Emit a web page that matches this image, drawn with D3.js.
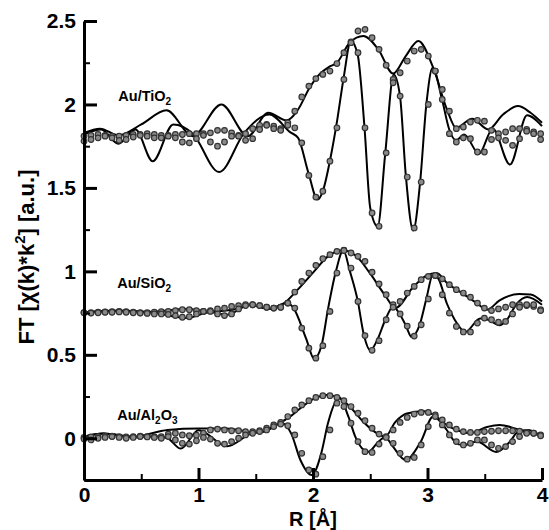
<!DOCTYPE html>
<html>
<head>
  <meta charset="utf-8" />
  <title>FT</title>
  <script src="https://d3js.org/d3.v7.min.js"></script>
  <style>
    body { margin: 0; background: #fff; }
    text { font-family: "Liberation Sans", Arial, sans-serif; font-weight: bold; fill: #000; }
  </style>
</head>
<body>
<svg width="549" height="530"></svg>
<script>
// R grid of the measured points (FFT grid, ~0.0614 A)
var rGrid = [0, 0.061, 0.123, 0.184, 0.245, 0.307, 0.368, 0.430, 0.491, 0.552,
  0.614, 0.675, 0.736, 0.798, 0.859, 0.920, 0.982, 1.043, 1.104, 1.166,
  1.227, 1.289, 1.350, 1.411, 1.473, 1.534, 1.595, 1.657, 1.718, 1.780,
  1.841, 1.902, 1.964, 2.025, 2.086, 2.148, 2.209, 2.270, 2.332, 2.393,
  2.454, 2.516, 2.577, 2.639, 2.700, 2.761, 2.823, 2.884, 2.945, 3.007,
  3.068, 3.129, 3.191, 3.252, 3.313, 3.375, 3.436, 3.497, 3.559, 3.620,
  3.682, 3.743, 3.804, 3.866, 3.927, 3.988];

// Au/TiO2 - measured magnitude and imaginary part
var tiMagData = [1.81,1.815,1.82,1.815,1.81,1.81,1.815,1.82,1.82,1.825,
  1.82,1.815,1.815,1.82,1.82,1.825,1.825,1.825,1.83,1.845,
  1.845,1.83,1.815,1.825,1.855,1.875,1.88,1.87,1.855,1.89,
  1.96,2.045,2.11,2.155,2.18,2.20,2.245,2.31,2.375,2.44,
  2.45,2.40,2.33,2.235,2.15,2.19,2.26,2.32,2.33,2.29,
  2.20,2.09,1.96,1.855,1.865,1.895,1.905,1.90,1.845,1.825,
  1.835,1.855,1.855,1.85,1.835,1.825];
var tiImData = [1.78,1.79,1.80,1.81,1.80,1.785,1.79,1.805,1.815,1.81,
  1.80,1.80,1.81,1.80,1.775,1.77,1.795,1.815,1.775,1.75,
  1.775,1.81,1.81,1.785,1.795,1.85,1.875,1.855,1.845,1.875,
  1.86,1.77,1.575,1.445,1.48,1.66,1.86,2.15,2.37,2.31,
  1.86,1.35,1.27,1.71,2.13,2.05,1.565,1.26,1.535,2.00,
  2.20,2.03,1.825,1.775,1.80,1.795,1.715,1.715,1.79,1.80,
  1.785,1.755,1.795,1.84,1.825,1.79];
// Au/TiO2 - fit (knots)
var tiMagFitR = [0, 0.14, 0.30, 0.50, 0.72, 0.95, 1.20, 1.43, 1.61, 1.77, 1.87, 1.97, 2.07, 2.14, 2.21,
  2.32, 2.44, 2.57, 2.70, 2.81, 2.92, 3.05, 3.17, 3.25, 3.39, 3.53, 3.66, 3.79, 3.90, 4.0];
var tiMagFit = [1.83, 1.855, 1.815, 1.88, 1.965, 1.81, 2.00, 1.81, 1.95, 1.905, 1.97, 2.10, 2.19, 2.225, 2.25,
  2.37, 2.41, 2.33, 2.185, 2.29, 2.38, 2.22, 1.97, 1.86, 1.915, 1.85, 1.94, 1.99, 1.95, 1.89];
var tiImFitR = [0, 0.15, 0.30, 0.45, 0.60, 0.78, 0.95, 1.18, 1.40, 1.62, 1.80, 1.87, 1.96, 2.04, 2.09,
  2.15, 2.21, 2.27, 2.33, 2.39, 2.45, 2.50, 2.565, 2.63, 2.705, 2.76, 2.81, 2.875, 2.935, 2.99,
  3.045, 3.13, 3.19, 3.25, 3.32, 3.45, 3.57, 3.72, 3.87, 4.0];
var tiImFit = [1.82, 1.85, 1.765, 1.85, 1.66, 1.88, 1.825, 1.595, 1.83, 1.94, 1.834, 1.80, 1.59, 1.43, 1.49,
  1.67, 1.90, 2.17, 2.38, 2.30, 1.86, 1.38, 1.27, 1.70, 2.18, 2.05, 1.58, 1.245, 1.53, 2.00,
  2.22, 2.02, 1.85, 1.785, 1.82, 1.705, 1.855, 1.64, 1.935, 1.87];

// Au/SiO2
var siMagData = [0.752,0.752,0.755,0.757,0.758,0.76,0.758,0.755,0.752,0.752,
  0.755,0.758,0.76,0.765,0.77,0.77,0.765,0.76,0.765,0.775,
  0.78,0.79,0.795,0.80,0.80,0.795,0.785,0.78,0.785,0.81,
  0.876,0.94,0.99,1.036,1.076,1.10,1.12,1.127,1.11,1.09,
  1.06,0.995,0.925,0.86,0.80,0.82,0.87,0.91,0.95,0.97,
  0.975,0.955,0.92,0.89,0.87,0.845,0.81,0.78,0.765,0.775,
  0.785,0.80,0.80,0.795,0.79,0.77];
var siImData = [0.752,0.75,0.752,0.755,0.755,0.757,0.755,0.752,0.75,0.748,
  0.745,0.745,0.742,0.735,0.725,0.728,0.745,0.76,0.76,0.745,
  0.735,0.745,0.775,0.795,0.80,0.795,0.785,0.78,0.785,0.81,
  0.78,0.66,0.54,0.48,0.555,0.76,0.99,1.125,1.02,0.82,
  0.615,0.527,0.585,0.71,0.785,0.745,0.672,0.612,0.68,0.835,
  0.975,0.86,0.75,0.67,0.637,0.637,0.69,0.72,0.71,0.695,
  0.70,0.745,0.785,0.80,0.80,0.765];
var siMagFitR = [0, 0.3, 0.6, 0.9, 1.1, 1.3, 1.45, 1.62, 1.75, 1.86, 2.01, 2.13, 2.265, 2.38,
  2.50, 2.63, 2.72, 2.875, 2.99, 3.08, 3.17, 3.30, 3.43, 3.52, 3.63, 3.80, 3.90, 4.0];
var siMagFit = [0.755, 0.765, 0.758, 0.775, 0.76, 0.77, 0.80, 0.775, 0.81, 0.886, 1.0, 1.09, 1.127, 1.09,
  0.986, 0.856, 0.78, 0.906, 0.975, 0.99, 0.93, 0.87, 0.81, 0.77, 0.826, 0.865, 0.862, 0.82];
var siImFitR = [0, 0.3, 0.6, 0.9, 1.1, 1.25, 1.45, 1.62, 1.77, 1.83, 1.94, 2.01, 2.075, 2.13, 2.20,
  2.265, 2.32, 2.39, 2.445, 2.50, 2.56, 2.63, 2.70, 2.755, 2.81, 2.86, 2.935, 2.99, 3.05, 3.10,
  3.17, 3.24, 3.33, 3.46, 3.53, 3.63, 3.69, 3.78, 3.87, 4.0];
var siImFit = [0.755, 0.762, 0.752, 0.72, 0.755, 0.74, 0.80, 0.775, 0.81, 0.78, 0.597, 0.477, 0.557, 0.77, 1.0,
  1.127, 1.006, 0.826, 0.617, 0.527, 0.587, 0.707, 0.79, 0.746, 0.677, 0.607, 0.687, 0.836, 0.986, 0.95,
  0.806, 0.707, 0.637, 0.717, 0.71, 0.677, 0.707, 0.806, 0.846, 0.80];

// Au/Al2O3
var alMagData = [0.005,0.008,0.01,0.012,0.012,0.01,0.008,0.01,0.012,0.01,
  0.008,0.01,0.025,0.03,0.02,0.015,0.018,0.03,0.05,0.055,
  0.05,0.045,0.045,0.04,0.04,0.045,0.06,0.08,0.095,0.13,
  0.17,0.20,0.225,0.245,0.255,0.255,0.245,0.225,0.19,0.15,
  0.105,0.06,0.025,0.01,0.05,0.095,0.125,0.145,0.155,0.155,
  0.14,0.11,0.08,0.055,0.04,0.035,0.035,0.04,0.042,0.045,
  0.045,0.045,0.042,0.035,0.03,0.02];
var alImData = [-0.005,-0.01,0.0,0.005,0.01,0.005,0.0,0.005,0.01,0.008,
  0.005,0.0,0.01,-0.01,-0.03,-0.035,-0.015,0.005,-0.005,-0.03,
  -0.035,-0.02,0.0,0.02,0.03,0.04,0.05,0.07,0.085,0.075,
  0.02,-0.09,-0.19,-0.215,-0.11,0.05,0.21,0.19,0.09,-0.02,
  -0.08,-0.085,-0.035,0.005,-0.03,-0.09,-0.125,-0.115,-0.04,0.07,
  0.13,0.08,0.02,-0.02,-0.04,-0.03,-0.01,-0.01,-0.04,-0.06,
  -0.05,-0.02,0.01,0.03,0.03,0.015];
var alMagFitR = [0, 0.17, 0.43, 0.73, 1.0, 1.22, 1.35, 1.46, 1.57, 1.70, 1.80, 1.89, 2.01, 2.12, 2.22,
  2.31, 2.44, 2.52, 2.63, 2.72, 2.82, 2.97, 3.08, 3.17, 3.26, 3.37, 3.52, 3.63, 3.77, 3.88, 4.0];
var alMagFit = [0.01, 0.028, 0.01, 0.05, 0.058, 0.058, 0.05, 0.035, 0.04, 0.088, 0.13, 0.18, 0.238, 0.26, 0.245,
  0.198, 0.098, 0.048, 0.01, 0.098, 0.148, 0.162, 0.128, 0.078, 0.048, 0.03, 0.068, 0.08, 0.058, 0.035, 0.015];
var alImFitR = [0, 0.17, 0.43, 0.62, 0.73, 0.845, 1.0, 1.25, 1.46, 1.57, 1.73, 1.81, 1.89, 1.99, 2.075,
  2.13, 2.23, 2.31, 2.37, 2.48, 2.57, 2.63, 2.69, 2.81, 2.94, 3.05, 3.17, 3.24, 3.31, 3.43,
  3.60, 3.72, 3.79, 3.88, 4.0];
var alImFit = [0.01, 0.028, 0.005, 0.012, 0.0, -0.062, 0.048, -0.048, 0.028, 0.04, 0.09, 0.028, -0.13, -0.22, -0.082,
  0.088, 0.244, 0.128, 0.008, -0.082, -0.022, 0.008, -0.042, -0.13, -0.022, 0.13, 0.048, -0.022, -0.042, -0.02,
  -0.082, -0.02, 0.038, 0.05, 0.01];

var yMajor = [0, 0.5, 1, 1.5, 2, 2.5];
var yMinor = [-0.25, 0.25, 0.75, 1.25, 1.75, 2.25];
var xMajor = [0, 1, 2, 3, 4];
var xMinor = [0.5, 1.5, 2.5, 3.5];

var samples = [
  {name: "Au/TiO", sub: ["2"], labelR: 0.3, labelY: 2.02,
   magData: tiMagData, imData: tiImData, magFitR: tiMagFitR, magFit: tiMagFit, imFitR: tiImFitR, imFit: tiImFit},
  {name: "Au/SiO", sub: ["2"], labelR: 0.29, labelY: 0.9,
   magData: siMagData, imData: siImData, magFitR: siMagFitR, magFit: siMagFit, imFitR: siImFitR, imFit: siImFit},
  {name: "Au/Al", sub: ["2", "3"], labelR: 0.29, labelY: 0.11,
   magData: alMagData, imData: alImData, magFitR: alMagFitR, magFit: alMagFit, imFitR: alImFitR, imFit: alImFit}
];

var svg = d3.select("svg"),
  margin = {top: 21, right: 7, bottom: 50, left: 84},
  width = +svg.attr("width") - margin.left - margin.right,
  height = +svg.attr("height") - margin.top - margin.bottom,
  g = svg.append("g").attr("transform", "translate(" + margin.left + "," + margin.top + ")");

var x = d3.scaleLinear().domain([0, 4]).range([0, width]);
var y = d3.scaleLinear().domain([-0.25, 2.5]).range([height, 0]);

var line = d3.line()
  .x(function(d) { return x(d[0]); })
  .y(function(d) { return y(d[1]); })
  .curve(d3.curveMonotoneX);

// fits
samples.forEach(function(s) {
  [[s.magFitR, s.magFit], [s.imFitR, s.imFit]].forEach(function(f) {
    g.append("path")
      .datum(f[0].map(function(r, i) { return [r, f[1][i]]; }))
      .attr("fill", "none")
      .attr("stroke", "#000")
      .attr("stroke-width", 2)
      .attr("d", line);
  });
});

// measured points
samples.forEach(function(s) {
  [s.magData, s.imData].forEach(function(vals) {
    g.append("g").selectAll("circle")
      .data(rGrid.map(function(r, i) { return [r, vals[i]]; }))
      .enter().append("circle")
        .attr("cx", function(d) { return x(d[0]); })
        .attr("cy", function(d) { return y(d[1]); })
        .attr("r", 2.8)
        .attr("fill", "#8a8a8a")
        .attr("stroke", "#333")
        .attr("stroke-width", 1.2);
  });
});

// sample labels
samples.forEach(function(s) {
  var t = g.append("text")
    .attr("x", x(s.labelR))
    .attr("y", y(s.labelY))
    .attr("font-size", 14.5);
  t.append("tspan").text(s.name);
  t.append("tspan").attr("font-size", 10).attr("dy", 4).text(s.sub[0]);
  if (s.sub.length > 1) {
    t.append("tspan").attr("dy", -4).text("O");
    t.append("tspan").attr("font-size", 10).attr("dy", 4).text(s.sub[1]);
  }
});

// axes
var yAxis = g.append("g")
  .call(d3.axisLeft(y).tickValues(yMajor).tickSize(-13).tickSizeOuter(0).tickPadding(8)
    .tickFormat(d3.format("~g")));
var yAxisMinor = g.append("g")
  .call(d3.axisLeft(y).tickValues(yMinor).tickSize(-6).tickFormat(""));
var xAxis = g.append("g")
  .attr("transform", "translate(0," + height + ")")
  .call(d3.axisBottom(x).tickValues(xMajor).tickSize(-12).tickSizeOuter(0).tickPadding(7)
    .tickFormat(d3.format("d")));
var xAxisMinor = g.append("g")
  .attr("transform", "translate(0," + height + ")")
  .call(d3.axisBottom(x).tickValues(xMinor).tickSize(-6).tickFormat(""));

yAxisMinor.select(".domain").remove();
xAxisMinor.select(".domain").remove();
g.selectAll(".domain").attr("stroke-width", 3);
g.selectAll(".tick line").attr("stroke-width", 3);
yAxisMinor.selectAll(".tick line").attr("stroke-width", 2);
xAxisMinor.selectAll(".tick line").attr("stroke-width", 2);
g.selectAll(".tick text")
  .attr("font-size", 21)
  .attr("font-family", "'Liberation Sans', Arial, sans-serif")
  .attr("font-weight", "bold");

// axis titles
svg.append("text")
  .attr("x", margin.left + width / 2)
  .attr("y", 526)
  .attr("text-anchor", "middle")
  .attr("font-size", 20)
  .text("R [Å]");

var yt = svg.append("text")
  .attr("transform", "translate(34,257) rotate(-90)")
  .attr("text-anchor", "middle")
  .attr("font-size", 22);
yt.append("tspan").text("FT [χ(k)*k");
yt.append("tspan").attr("font-size", 15).attr("dy", -9).text("2");
yt.append("tspan").attr("dy", 9).text("] [a.u.]");
</script>
</body>
</html>
